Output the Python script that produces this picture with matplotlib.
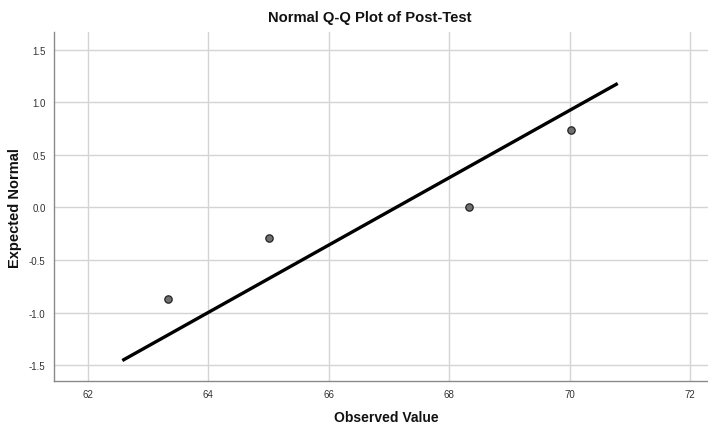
import matplotlib
matplotlib.use("Agg")
import matplotlib.pyplot as plt

plt.rcParams['font.family'] = ['Liberation Sans', 'DejaVu Sans']

observed = [63.33, 65.0, 68.33, 70.03]
expected = [-0.867, -0.295, 0.0, 0.733]
line_x = [62.57, 70.8]
line_y = [-1.457, 1.18]
xticks = [62, 64, 66, 68, 70, 72]
yticks = [-1.5, -1.0, -0.5, 0.0, 0.5, 1.0, 1.5]

fig = plt.figure(figsize=(7.08, 4.27), dpi=100)
ax = fig.add_axes([54/708, 1-382/427, 1-54/708, (382-33)/427])

ax.grid(True, color='#d4d4d4', linewidth=1.0)
ax.set_axisbelow(True)
ax.plot(line_x, line_y, color='black', linewidth=2.4, solid_capstyle='butt', zorder=3)
ax.scatter(observed, expected, s=28, facecolor='#707070', edgecolor='#222222', linewidth=0.9, zorder=4)

ax.set_xlim(61.435, 72.3)
ax.set_ylim(-1.652, 1.67)
ax.set_xticks(xticks)
ax.set_xticklabels([str(v) for v in xticks])
ax.set_yticks(yticks)
ax.set_yticklabels([f"{v:.1f}" for v in yticks])
ax.tick_params(length=0, labelsize=7, colors='#333333')
ax.tick_params(axis='x', pad=6)
ax.tick_params(axis='y', pad=6)
for s in ['top', 'right']:
    ax.spines[s].set_visible(False)
for s in ['left', 'bottom']:
    ax.spines[s].set_color('#8a8a8a')
    ax.spines[s].set_linewidth(1.0)

fig.text(370/708, 1-18/427, "Normal Q-Q Plot of Post-Test", ha='center', va='center',
         fontsize=10.6, fontweight='bold', color='#111111')
fig.text(386/708, 1-418/427, "Observed Value", ha='center', va='center',
         fontsize=10, fontweight='bold', color='#111111')
fig.text(15/708, 1-208/427, "Expected Normal", ha='center', va='center', rotation=90,
         fontsize=10.5, fontweight='bold', color='#111111')

fig.savefig("out.png", dpi=100)
